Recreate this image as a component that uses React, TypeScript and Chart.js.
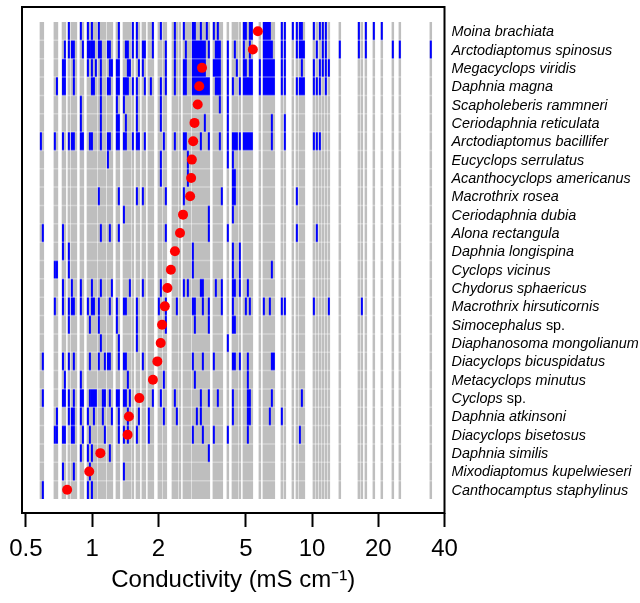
import { useEffect, useRef } from "react";
import { Chart, registerables } from "chart.js";
Chart.register(...registerables);

const species: string[] = [
  "Moina brachiata", "Arctodiaptomus spinosus", "Megacyclops viridis", "Daphnia magna",
  "Scapholeberis rammneri", "Ceriodaphnia reticulata", "Arctodiaptomus bacillifer",
  "Eucyclops serrulatus", "Acanthocyclops americanus", "Macrothrix rosea", "Ceriodaphnia dubia",
  "Alona rectangula", "Daphnia longispina", "Cyclops vicinus", "Chydorus sphaericus",
  "Macrothrix hirsuticornis", "Simocephalus sp.", "Diaphanosoma mongolianum",
  "Diacyclops bicuspidatus", "Metacyclops minutus", "Cyclops sp.", "Daphnia atkinsoni",
  "Diacyclops bisetosus", "Daphnia similis", "Mixodiaptomus kupelwieseri", "Canthocamptus staphylinus",
];

const optimum: number[] = [
  5.67, 5.38, 3.16, 3.07, 3.02, 2.92, 2.88, 2.84, 2.82, 2.79, 2.59, 2.51, 2.38,
  2.28, 2.2, 2.14, 2.08, 2.05, 1.98, 1.89, 1.64, 1.47, 1.45, 1.09, 0.97, 0.77,
];

const sampleConductivity: number[] = [
  0.585, 0.597, 0.677, 0.692, 0.737, 0.752, 0.784, 0.809, 0.826, 0.844, 0.889, 0.908,
  0.957, 0.977, 0.998, 1.019, 1.04, 1.073, 1.096, 1.119, 1.143, 1.18, 1.204, 1.23,
  1.296, 1.323, 1.395, 1.424, 1.454, 1.485, 1.532, 1.598, 1.632, 1.701, 1.737, 1.811,
  1.85, 1.889, 2.011, 2.054, 2.119, 2.164, 2.329, 2.378, 2.428, 2.506, 2.613, 2.668,
  2.725, 2.782, 2.871, 2.932, 2.994, 3.057, 3.122, 3.188, 3.255, 3.324, 3.394, 3.576,
  3.652, 3.729, 3.808, 3.888, 4.141, 4.365, 4.456, 4.55, 4.695, 4.896, 5.0, 5.106,
  5.214, 5.324, 5.789, 6.036, 6.164, 6.295, 6.428, 6.564, 6.703, 7.287, 7.521, 8.178,
  8.528, 8.801, 8.987, 9.178, 10.19, 10.51, 10.85, 11.19, 11.55, 11.92, 13.37, 16.32,
  16.84, 17.56, 19.09, 20.75, 23.29, 25.06, 34.66,
];

const presence: number[][] = [
  [0.784, 0.889, 0.957, 0.998, 1.073, 1.323, 1.532, 1.598, 1.889, 2.054, 2.378, 2.613, 2.871, 2.932, 3.122, 3.324, 3.576, 3.729, 4.896, 5.0, 5.214, 5.324, 6.036, 6.164, 6.295, 6.428, 7.287, 7.521, 8.178, 8.528, 8.801, 8.987, 10.19, 10.85, 11.19, 11.55, 16.32, 17.56, 19.09, 20.75],
  [0.752, 0.784, 0.809, 0.826, 0.908, 0.957, 0.977, 0.998, 1.019, 1.073, 1.096, 1.18, 1.204, 1.323, 1.424, 1.454, 1.532, 1.598, 1.701, 1.737, 1.889, 2.164, 2.378, 2.668, 2.871, 2.932, 2.994, 3.057, 3.122, 3.188, 3.255, 3.394, 3.652, 3.729, 3.808, 4.141, 4.456, 4.896, 5.214, 6.036, 6.164, 6.295, 6.428, 6.564, 7.287, 7.521, 8.528, 8.801, 8.987, 9.178, 10.51, 11.19, 11.55, 13.37, 16.32, 17.56, 23.29, 25.06, 34.66],
  [0.737, 0.752, 0.826, 0.957, 0.998, 1.04, 1.096, 1.204, 1.23, 1.296, 1.323, 1.454, 1.485, 1.632, 1.701, 2.164, 2.378, 2.613, 2.668, 2.871, 2.932, 2.994, 3.057, 3.122, 3.188, 3.255, 3.576, 3.652, 3.729, 3.808, 4.141, 4.55, 4.896, 5.0, 5.214, 5.324, 5.789, 6.036, 6.164, 6.295, 6.428, 6.564, 6.703, 7.287, 7.521, 8.987, 10.19, 10.85, 11.19, 11.55, 11.92],
  [0.692, 0.737, 0.752, 0.826, 0.998, 1.019, 1.096, 1.18, 1.204, 1.296, 1.323, 1.395, 1.424, 1.454, 1.532, 1.598, 1.737, 1.85, 2.054, 2.164, 2.378, 2.613, 2.668, 2.871, 2.932, 2.994, 3.057, 3.122, 3.188, 3.255, 3.324, 3.394, 3.652, 3.729, 3.808, 4.141, 4.365, 4.695, 4.896, 5.0, 5.106, 5.214, 5.324, 5.789, 6.036, 6.164, 6.295, 6.428, 6.564, 6.703, 7.287, 7.521, 8.528, 8.801, 8.987, 9.178, 10.19, 10.51, 10.85, 11.55],
  [0.889, 1.096, 1.296, 1.395, 1.598, 2.054, 3.808, 4.141],
  [0.889, 1.096, 1.296, 1.323, 1.424, 1.598, 2.054, 3.255, 4.141, 6.564, 7.521],
  [0.585, 0.677, 0.737, 0.784, 0.809, 0.826, 0.889, 0.908, 0.977, 0.998, 1.096, 1.18, 1.204, 1.296, 1.323, 1.395, 1.424, 1.532, 1.598, 1.632, 1.737, 2.119, 2.378, 2.613, 2.668, 3.122, 3.394, 3.808, 4.141, 4.365, 4.456, 4.55, 4.695, 4.896, 5.0, 5.106, 5.214, 5.324, 6.564, 7.521, 10.19, 10.51, 10.85],
  [1.18, 2.054, 2.725, 4.141, 4.365],
  [2.054, 2.725, 4.365, 4.456],
  [1.073, 1.323, 1.598, 1.701, 2.164, 2.613, 3.888, 4.365, 4.456, 8.528],
  [1.395, 3.394, 4.365],
  [0.597, 0.737, 1.096, 1.204, 1.323, 2.164, 3.394, 4.141, 8.528, 10.51],
  [0.737, 0.784, 2.871, 4.365, 4.695],
  [0.677, 0.692, 0.784, 2.871, 4.365, 4.695, 6.564],
  [0.737, 0.809, 0.889, 0.998, 1.096, 1.23, 1.485, 1.701, 2.054, 2.613, 2.725, 3.122, 3.188, 3.652, 3.888, 4.365, 4.456, 4.695, 5.106],
  [0.677, 0.737, 0.784, 0.809, 0.826, 0.889, 0.957, 0.998, 1.019, 1.073, 1.204, 1.296, 1.395, 1.424, 1.598, 2.011, 2.164, 2.428, 2.871, 2.932, 3.188, 3.394, 3.888, 4.365, 5.0, 5.214, 6.036, 6.428, 7.287, 7.521, 10.19, 11.92, 16.84],
  [0.784, 0.977, 1.073, 1.296, 1.598, 2.164, 2.932, 3.394, 4.365, 4.456],
  [1.096, 1.323, 1.598, 4.141],
  [0.597, 0.737, 0.784, 0.826, 0.977, 1.073, 1.143, 1.18, 1.204, 1.323, 1.395, 1.424, 1.701, 2.871, 3.188, 3.576, 4.365, 4.456, 4.695, 5.106, 6.564, 6.703],
  [0.752, 0.889, 1.454, 2.119, 2.932, 5.106],
  [0.597, 0.737, 0.752, 0.784, 0.826, 0.889, 0.908, 0.977, 0.998, 1.019, 1.04, 1.119, 1.143, 1.204, 1.296, 1.323, 1.395, 1.424, 1.485, 1.889, 2.054, 2.378, 3.122, 3.394, 3.729, 4.365, 5.106, 5.214, 6.564, 8.987],
  [0.692, 0.784, 0.809, 0.826, 0.889, 0.957, 1.019, 1.119, 1.23, 1.323, 1.454, 1.632, 1.811, 2.119, 2.428, 2.994, 3.122, 4.365, 5.106, 5.214, 6.428, 7.287],
  [0.677, 0.692, 0.737, 0.752, 0.809, 0.826, 0.908, 0.977, 1.143, 1.323, 1.395, 1.454, 1.598, 1.811, 2.871, 3.188, 3.576, 4.141, 5.106, 8.801],
  [0.889, 0.957, 0.998, 1.204, 3.394],
  [0.737, 0.826, 0.977, 1.395],
  [0.597, 0.957, 0.998],
];

const xTicks: number[] = [0.5, 1, 2, 5, 10, 20, 40];

const nRows = species.length;
const FONT = "'Liberation Sans', Arial, sans-serif";

export default function App() {
  const ref = useRef<HTMLCanvasElement | null>(null);

  useEffect(() => {
    if (!ref.current) return;

    const grayData: any[] = [];
    sampleConductivity.forEach((v) => {
      grayData.push({ x: v, y: 0 }, { x: v, y: nRows }, { x: v, y: null });
    });

    const blueData: any[] = [];
    presence.forEach((row, i) => {
      const base = nRows - 1 - i;
      row.forEach((v) => {
        blueData.push({ x: v, y: base }, { x: v, y: base + 1 }, { x: v, y: null });
      });
    });

    // faint row separators (lighter bands at cell boundaries)
    const sepData: any[] = [];
    for (let r = 1; r < nRows; r++) {
      sepData.push({ x: 0.57, y: r }, { x: 36, y: r }, { x: 36, y: null });
    }

    const redData = optimum.map((v, i) => ({ x: v, y: nRows - 1 - i + 0.5 }));

    const boxAndLabels = {
      id: "boxAndLabels",
      afterDraw(chart: any) {
        const { ctx, chartArea } = chart;
        const yScale = chart.scales.y;
        ctx.save();
        ctx.strokeStyle = "#000";
        ctx.lineWidth = 2;
        ctx.strokeRect(chartArea.left, chartArea.top, chartArea.right - chartArea.left, chartArea.bottom - chartArea.top);
        ctx.fillStyle = "#000";
        ctx.textBaseline = "middle";
        ctx.textAlign = "left";
        const italic = `italic 14.4px ${FONT}`;
        const normal = `14.4px ${FONT}`;
        species.forEach((name, i) => {
          const y = yScale.getPixelForValue(nRows - 1 - i + 0.5) + 1;
          const x = chartArea.right + 7;
          if (name.endsWith(" sp.")) {
            const genus = name.slice(0, -4);
            ctx.font = italic;
            ctx.fillText(genus, x, y);
            const w = ctx.measureText(genus).width;
            ctx.font = normal;
            ctx.fillText(" sp.", x + w, y);
          } else {
            ctx.font = italic;
            ctx.fillText(name, x, y);
          }
        });
        ctx.restore();
      },
    };

    const chart = new Chart(ref.current, {
      type: "scatter",
      data: {
        datasets: [
          {
            data: redData,
            backgroundColor: "#FF0000",
            borderWidth: 0,
            pointRadius: 5,
            order: 0,
          } as any,
          {
            data: sepData,
            showLine: true,
            borderColor: "rgba(255,255,255,0.35)",
            borderWidth: 1.5,
            pointRadius: 0,
            spanGaps: false,
            order: 1,
          } as any,
          {
            data: blueData,
            showLine: true,
            borderColor: "#0000FF",
            borderWidth: 2,
            pointRadius: 0,
            spanGaps: false,
            order: 2,
          } as any,
          {
            data: grayData,
            showLine: true,
            borderColor: "#BEBEBE",
            borderWidth: 2.5,
            pointRadius: 0,
            spanGaps: false,
            order: 3,
          } as any,
        ],
      },
      options: {
        animation: false,
        responsive: true,
        maintainAspectRatio: false,
        layout: { padding: { left: 22, right: 195.5, top: 7, bottom: 0 } },
        plugins: { legend: { display: false }, tooltip: { enabled: false } },
        scales: {
          x: {
            type: "logarithmic",
            min: 0.48,
            max: 40,
            afterBuildTicks: (axis: any) => {
              axis.ticks = xTicks.map((v) => ({ value: v }));
            },
            afterFit: (axis: any) => {
              axis.height = 90;
            },
            ticks: {
              autoSkip: false,
              maxRotation: 0,
              color: "#000",
              padding: 8,
              font: { family: FONT, size: 24 },
              callback: (v: any) => String(v),
            },
            grid: {
              drawOnChartArea: false,
              drawTicks: true,
              tickLength: 14,
              tickWidth: 2,
              tickColor: "#000",
            },
            border: { display: false },
            title: {
              display: true,
              text: "Conductivity (mS cm\u207B\u00B9)",
              color: "#000",
              font: { family: FONT, size: 24 },
              padding: { top: 0, bottom: 8 },
            },
          },
          y: {
            type: "linear",
            display: false,
            min: -0.763,
            max: 26.818,
          },
        },
      },
      plugins: [boxAndLabels],
    });

    return () => chart.destroy();
  }, []);

  return (
    <div style={{ position: "absolute", left: 0, top: 0, width: 640, height: 603, background: "#fff" }}>
      <canvas ref={ref} />
    </div>
  );
}
